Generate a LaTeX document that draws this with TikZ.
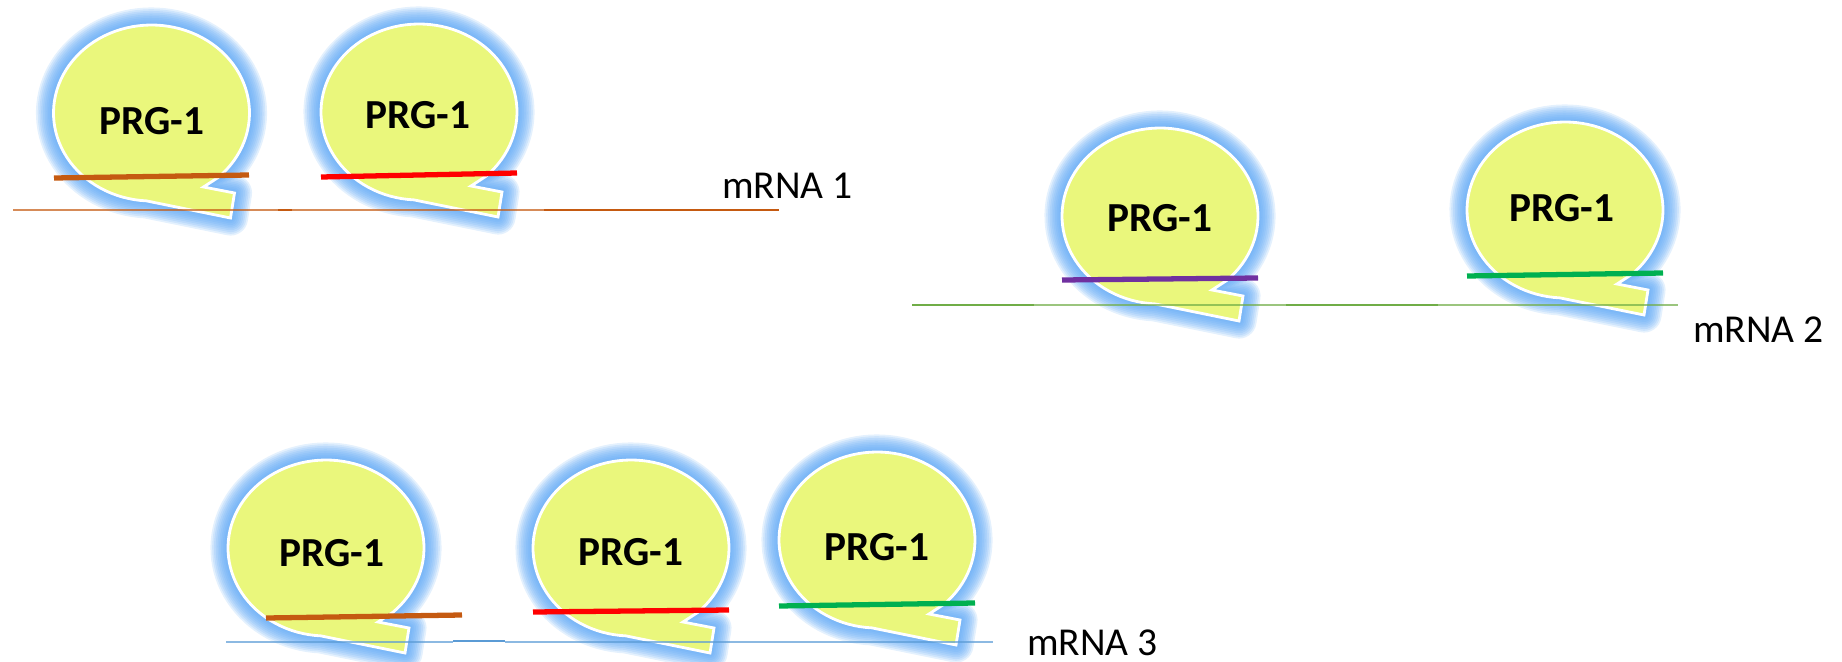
\documentclass[tikz,border=0pt]{standalone}
\usepackage{fontspec}
\setmainfont{Carlito}
\usepackage{xcolor}

\definecolor{prgyellow}{RGB}{234,247,124}
\definecolor{glowblue}{RGB}{90,165,245}
\definecolor{rnaorange}{RGB}{197,90,17}
\definecolor{rnared}{RGB}{255,0,0}
\definecolor{rnapurple}{RGB}{112,48,160}
\definecolor{rnagreen}{RGB}{0,176,80}
\definecolor{msggreen}{RGB}{112,173,71}
\definecolor{msgblue}{RGB}{91,155,213}

% oval callout with its tail to the lower right
\newcommand{\prgoutline}{plot[domain=-267:47,samples=90] ({98*cos(\x)},{88*sin(\x)})
  -- (52,74) -- (83,80) -- (79,105) -- cycle}

\tikzset{
  glow/.style={draw=glowblue,draw opacity=0.16,line join=round},
  pics/prg/.style={code={
    \foreach \w in {2,4,...,20}
      \draw[glow,line width=\w pt] \prgoutline;
    \fill[prgyellow] \prgoutline;
    \draw[white,line width=1.6pt] \prgoutline;
  }}
}

\begin{document}
\begin{tikzpicture}[x=0.02cm,y=-0.02cm,
    pirna/.style={line width=3pt},
    mrna/.style={line width=1.7pt},
    faint/.style={line width=1.4pt,draw opacity=0.7},
    prgtext/.style={font=\fontsize{23.5}{28}\selectfont\bfseries,inner sep=0pt},
    mlabel/.style={font=\fontsize{22.5}{27}\selectfont,inner sep=0pt,anchor=base west}]
  \useasboundingbox (0,0) rectangle (1842,662);

  % PRG-1 complexes
  \pic at (151.5,113) {prg};
  \pic at (419,112) {prg};
  \pic at (1160,216) {prg};
  \pic at (1565,210) {prg};
  \pic at (326,548) {prg};
  \pic at (631,548) {prg};
  \pic at (877,540) {prg};

  \node[prgtext] (pA) at (152,121) {PRG-1};
  \node[prgtext] (pB) at (418,115) {PRG-1};
  \node[prgtext] (pC) at (1160,218) {PRG-1};
  \node[prgtext] (pD) at (1562,208) {PRG-1};
  \node[prgtext] (pE) at (332,553) {PRG-1};
  \node[prgtext] (pF) at (631,552) {PRG-1};
  \node[prgtext] (pG) at (877,547) {PRG-1};

  % guide RNAs
  \draw[pirna,rnaorange] (54,178) -- (249,175);
  \draw[pirna,rnared] (321,177) -- (517,173);
  \draw[pirna,rnapurple] (1062,280) -- (1258,278);
  \draw[pirna,rnagreen] (1467,276) -- (1663,273);
  \draw[pirna,rnaorange] (266,618) -- (462,615);
  \draw[pirna,rnared] (533,612) -- (729,610);
  \draw[pirna,rnagreen] (779,606) -- (975,603);

  % targets
  \draw[rnaorange,faint] (13,210) -- (278,210);
  \draw[rnaorange,mrna] (278,210) -- (292,210);
  \draw[rnaorange,faint] (292,210) -- (544,210);
  \draw[rnaorange,mrna] (544,210) -- (779,210);

  \draw[msggreen,mrna] (912,305) -- (1034,305);
  \draw[msggreen,faint] (1034,305) -- (1286,305);
  \draw[msggreen,mrna] (1286,305) -- (1438,305);
  \draw[msggreen,faint] (1438,305) -- (1678,305);

  \draw[msgblue,faint] (226,642) -- (453,642);
  \draw[msgblue,mrna] (453,641) -- (505,641);
  \draw[msgblue,faint] (505,642) -- (993,642);

  \node[mlabel] (m1) at (722,199) {mRNA 1};
  \node[mlabel] (m2) at (1693,342) {mRNA 2};
  \node[mlabel] (m3) at (1027,655) {mRNA 3};
\end{tikzpicture}
\end{document}
